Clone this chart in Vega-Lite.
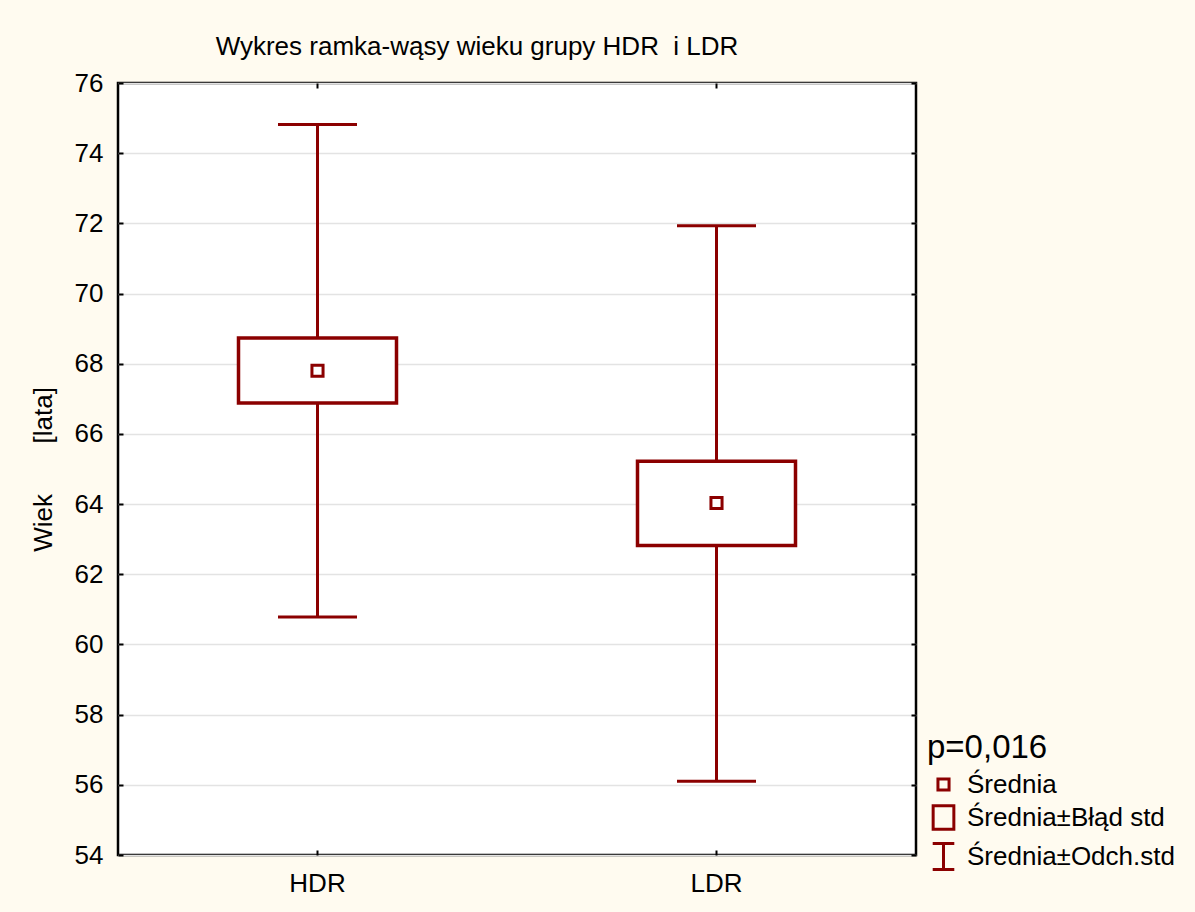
{
  "$schema": "https://vega.github.io/schema/vega-lite/v6.json",
  "width": 798,
  "height": 772,
  "autosize": "none",
  "padding": {"left": 118, "top": 83, "right": 279, "bottom": 57},
  "background": "#FFFBF0",
  "title": {
    "text": "Wykres ramka-wąsy wieku grupy HDR\u00a0 i LDR",
    "font": "Liberation Sans",
    "fontSize": 26,
    "fontWeight": "normal",
    "color": "black",
    "anchor": "middle",
    "baseline": "alphabetic",
    "dx": -40,
    "offset": -11
  },
  "data": {
    "values": [
      {"grupa": "HDR", "mean": 67.8, "se_lo": 66.88, "se_hi": 68.73, "sd_lo": 60.78, "sd_hi": 74.82},
      {"grupa": "LDR", "mean": 64.03, "se_lo": 62.82, "se_hi": 65.22, "sd_lo": 56.1, "sd_hi": 71.93}
    ]
  },
  "config": {
    "view": {"stroke": "black", "strokeWidth": 2.5, "fill": "white"},
    "font": "Liberation Sans"
  },
  "resolve": {"axis": {"x": "independent", "y": "independent"}},
  "layer": [
    {
      "mark": {"type": "rule", "stroke": "#8B0000", "strokeWidth": 3},
      "encoding": {
        "x": {
          "field": "grupa", "type": "nominal",
          "scale": {"type": "band", "paddingInner": 0, "paddingOuter": 0},
          "axis": {
            "orient": "bottom", "title": null, "domain": false,
            "ticks": true, "tickSize": -5, "tickWidth": 2, "tickColor": "black",
            "labelFont": "Liberation Sans", "labelFontSize": 26, "labelColor": "black",
            "labelPadding": 20, "labelAngle": 0
          }
        },
        "y": {
          "field": "sd_lo", "type": "quantitative",
          "scale": {"domain": [54, 76], "nice": false, "zero": false},
          "axis": {
            "orient": "left", "values": [54, 56, 58, 60, 62, 64, 66, 68, 70, 72, 74, 76],
            "domain": false, "grid": true, "gridColor": "#E3E3E3", "gridWidth": 1.5,
            "ticks": true, "tickSize": -5, "tickWidth": 2, "tickColor": "black",
            "labelFont": "Liberation Sans", "labelFontSize": 26, "labelColor": "black",
            "labelPadding": 20,
            "title": "Wiek\u00a0\u00a0\u00a0\u00a0\u00a0\u00a0\u00a0[lata]",
            "titleFont": "Liberation Sans", "titleFontSize": 26, "titleFontWeight": "normal",
            "titleColor": "black", "titlePadding": 18
          }
        },
        "y2": {"field": "sd_hi"}
      }
    },
    {
      "mark": {"type": "bar", "width": 158, "fill": "white", "stroke": "#8B0000", "strokeWidth": 3.5},
      "encoding": {
        "x": {
          "field": "grupa", "type": "nominal",
          "scale": {"type": "band", "paddingInner": 0, "paddingOuter": 0},
          "axis": {
            "orient": "top", "title": null, "domain": false, "labels": false,
            "ticks": true, "tickSize": -5, "tickWidth": 2, "tickColor": "black", "grid": false
          }
        },
        "y": {
          "field": "se_lo", "type": "quantitative",
          "scale": {"domain": [54, 76], "nice": false, "zero": false},
          "axis": {
            "orient": "right", "values": [54, 56, 58, 60, 62, 64, 66, 68, 70, 72, 74, 76],
            "title": null, "domain": false, "labels": false, "grid": false,
            "ticks": true, "tickSize": -5, "tickWidth": 2, "tickColor": "black"
          }
        },
        "y2": {"field": "se_hi"}
      }
    },
    {
      "mark": {"type": "tick", "orient": "horizontal", "size": 79, "thickness": 3, "color": "#8B0000", "opacity": 1},
      "encoding": {
        "x": {"field": "grupa", "type": "nominal", "axis": null},
        "y": {"field": "sd_lo", "type": "quantitative", "axis": null}
      }
    },
    {
      "mark": {"type": "tick", "orient": "horizontal", "size": 79, "thickness": 3, "color": "#8B0000", "opacity": 1},
      "encoding": {
        "x": {"field": "grupa", "type": "nominal", "axis": null},
        "y": {"field": "sd_hi", "type": "quantitative", "axis": null}
      }
    },
    {
      "mark": {"type": "point", "filled": false, "stroke": "#8B0000", "strokeWidth": 3, "size": 900, "opacity": 1},
      "encoding": {
        "x": {"field": "grupa", "type": "nominal", "axis": null},
        "y": {"field": "mean", "type": "quantitative", "axis": null},
        "shape": {
          "datum": "Średnia",
          "scale": {
            "domain": ["Średnia", "Średnia±Błąd std", "Średnia±Odch.std"],
            "range": [
              "M-0.37,-0.37L0.37,-0.37L0.37,0.37L-0.37,0.37Z",
              "M-0.69,-0.78L0.69,-0.78L0.69,0.78L-0.69,0.78Z",
              "M-0.72,-0.87L0.72,-0.87M0,-0.87L0,0.87M-0.72,0.87L0.72,0.87"
            ]
          },
          "legend": {
            "orient": "none", "legendX": 809, "legendY": 649,
            "title": "p=0,016", "titleFont": "Liberation Sans", "titleFontSize": 33,
            "titleFontWeight": "normal", "titleColor": "black", "titlePadding": 3,
            "labelFont": "Liberation Sans", "labelFontSize": 26, "labelColor": "black",
            "labelOffset": 7, "labelLimit": 400, "rowPadding": 1, "padding": 0,
            "symbolSize": 900, "symbolStrokeColor": "#8B0000", "symbolFillColor": "transparent",
            "symbolStrokeWidth": 3, "symbolOpacity": 1
          }
        }
      }
    }
  ]
}
